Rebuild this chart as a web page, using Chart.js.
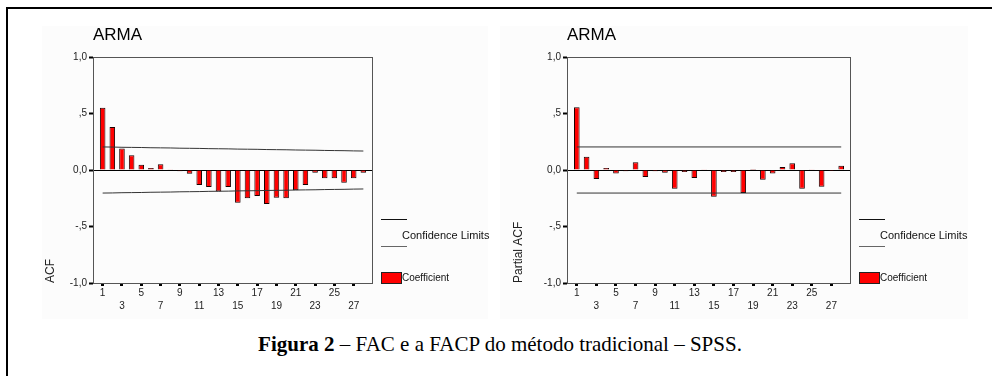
<!DOCTYPE html>
<html>
<head>
<meta charset="utf-8">
<script src="https://cdn.jsdelivr.net/npm/chart.js@4/dist/chart.umd.min.js"></script>
<style>
body { margin: 0; background: #fff; }
.page { position: relative; width: 992px; height: 376px; overflow: hidden; font-family: "Liberation Sans", Arial, sans-serif; }
.frame-top { position: absolute; left: 6px; top: 7px; width: 986px; height: 2px; background: #000; }
.frame-left { position: absolute; left: 6px; top: 7px; width: 2px; height: 369px; background: #000; }
.bg { position: absolute; background: #fcfcfc; }
.box { position: absolute; }
.caption { position: absolute; left: 8px; top: 332px; width: 984px; text-align: center; font-family: "Liberation Serif", "Times New Roman", serif; font-size: 21px; line-height: 25px; color: #000; }
</style>
</head>
<body>
<div class="page">
	<div class="frame-top"></div>
	<div class="frame-left"></div>
	<div class="bg" style="left:42px;top:26px;width:446px;height:293px"></div>
	<div class="bg" style="left:500px;top:26px;width:468px;height:293px"></div>
	<div class="box" style="left:42px;top:26px"><canvas id="acfChart" width="460" height="293"></canvas></div>
	<div class="box" style="left:510px;top:26px"><canvas id="pacfChart" width="470" height="293"></canvas></div>
	<div class="caption"><b>Figura 2</b> – FAC e a FACP do método tradicional – SPSS.</div>
</div>
<script>
const lags = [1, 2, 3, 4, 5, 6, 7, 8, 9, 10, 11, 12, 13, 14, 15, 16, 17, 18, 19, 20, 21, 22, 23, 24, 25, 26, 27, 28];
const xTickLags = [1, 3, 5, 7, 9, 11, 13, 15, 17, 19, 21, 23, 25, 27];
const yTicks = [-1, -0.5, 0, 0.5, 1];
const yTickLabels = ['-1,0', '-,5', '0,0', ',5', '1,0'];

// FAC (ACF)
const acf = [0.55, 0.38, 0.19, 0.13, 0.047, 0.018, 0.05, 0.002, -0.01, -0.033, -0.133, -0.15, -0.19, -0.15,
	-0.29, -0.25, -0.23, -0.30, -0.245, -0.25, -0.18, -0.133, -0.024, -0.074, -0.072, -0.112, -0.072, -0.024];
const acfUpper = [0.204, 0.203, 0.201, 0.200, 0.199, 0.197, 0.196, 0.195, 0.193, 0.192, 0.191, 0.189, 0.188, 0.187,
	0.185, 0.184, 0.183, 0.181, 0.180, 0.179, 0.177, 0.176, 0.175, 0.173, 0.172, 0.171, 0.169, 0.168];
const acfLower = [-0.204, -0.203, -0.201, -0.200, -0.199, -0.197, -0.196, -0.195, -0.193, -0.192, -0.191, -0.189, -0.188, -0.187,
	-0.185, -0.184, -0.183, -0.181, -0.180, -0.179, -0.177, -0.176, -0.175, -0.173, -0.172, -0.171, -0.169, -0.168];

// FACP (Partial ACF)
const pacf = [0.555, 0.118, -0.08, 0.018, -0.03, -0.01, 0.068, -0.062, -0.012, -0.024, -0.165, -0.018, -0.071, 0.002,
	-0.236, -0.018, -0.018, -0.204, 0.009, -0.086, -0.03, 0.027, 0.059, -0.165, 0.002, -0.148, -0.008, 0.038];
const pacfLimitLags = [1, 28];
const pacfUpper = [0.204, 0.204];
const pacfLower = [-0.204, -0.204];

const FONT = '"Liberation Sans", Arial, sans-serif';

function points(xs, ys) {
	return xs.map(function (x, i) { return { x: x, y: ys[i] }; });
}

// plot frame, title and the SPSS style legend
const spssDecor = {
	id: 'spssDecor',
	afterDraw: function (chart) {
		const c = chart.ctx;
		const a = chart.chartArea;
		c.save();
		c.strokeStyle = '#555';
		c.lineWidth = 1;
		c.strokeRect(a.left + 0.5, a.top + 0.5, a.right - a.left - 1, a.bottom - a.top);

		c.fillStyle = '#000';
		c.font = '17px ' + FONT;
		c.textBaseline = 'middle';
		c.textAlign = 'left';
		c.fillText('ARMA', a.left, a.top - 22);

		const lx = a.right + 8;
		c.strokeStyle = '#111';
		c.beginPath(); c.moveTo(lx, a.bottom - 63.5); c.lineTo(lx + 26, a.bottom - 63.5); c.stroke();
		c.strokeStyle = '#666';
		c.beginPath(); c.moveTo(lx, a.bottom - 36.5); c.lineTo(lx + 26, a.bottom - 36.5); c.stroke();
		c.font = '11px ' + FONT;
		c.fillStyle = '#111';
		c.fillText('Confidence Limits', lx + 21, a.bottom - 47);
		c.fillStyle = '#ff0000';
		c.fillRect(lx, a.bottom - 11, 20, 11);
		c.strokeStyle = '#222';
		c.strokeRect(lx + 0.5, a.bottom - 10.5, 20, 11);
		c.fillStyle = '#111';
		c.font = '10px ' + FONT;
		c.fillText('Coefficient', lx + 21, a.bottom - 5);
		c.restore();
	}
};

function makeChart(id, values, limitX, upper, lower, yTitle, axisWidth) {
	const ctx = document.getElementById(id).getContext('2d');
	return new Chart(ctx, {
		type: 'bar',
		data: {
			datasets: [
				{
					type: 'line',
					data: points(limitX, upper),
					borderColor: '#333',
					borderWidth: 1,
					pointRadius: 0,
					order: 1
				},
				{
					type: 'line',
					data: points(limitX, lower),
					borderColor: '#333',
					borderWidth: 1,
					pointRadius: 0,
					order: 1
				},
				{
					type: 'bar',
					data: points(lags, values),
					backgroundColor: '#ff0000',
					borderColor: '#1a0000',
					borderWidth: 1,
					barPercentage: 0.72,
					categoryPercentage: 0.8,
					order: 2
				}
			]
		},
		options: {
			responsive: false,
			animation: false,
			layout: { padding: { top: 31, right: 129, bottom: 0, left: 0 } },
			plugins: {
				legend: { display: false },
				tooltip: { enabled: false }
			},
			scales: {
				x: {
					type: 'linear',
					min: 0,
					max: 29,
					offset: false,
					afterBuildTicks: function (s) { s.ticks = xTickLags.map(function (v) { return { value: v }; }); },
					afterFit: function (s) { s.height = 36; },
					ticks: {
						autoSkip: false,
						maxRotation: 0,
						padding: 1,
						color: '#222',
						font: { family: FONT, size: 10, lineHeight: 1.3 },
						callback: function (v, i) { return i % 2 === 0 ? String(v) : ['', String(v)]; }
					},
					grid: { drawOnChartArea: false, offset: false, tickLength: 3, tickWidth: 3, tickColor: '#000' },
					border: { display: false }
				},
				y: {
					min: -1,
					max: 1,
					afterBuildTicks: function (s) { s.ticks = yTicks.map(function (v) { return { value: v }; }); },
					afterFit: function (s) { s.width = axisWidth; },
					ticks: {
						padding: 2,
						color: '#222',
						font: { family: FONT, size: 10 },
						callback: function (v) { return yTickLabels[yTicks.indexOf(v)]; }
					},
					grid: {
						tickLength: 4,
						tickWidth: 2,
						tickColor: '#000',
						color: function (c) { return c.tick && c.tick.value === 0 ? '#000' : 'rgba(0,0,0,0)'; }
					},
					border: { display: false },
					title: {
						display: true,
						text: yTitle,
						align: 'start',
						color: '#222',
						font: { family: FONT, size: 12 },
						padding: { top: 1, bottom: 0 }
					}
				}
			}
		},
		plugins: [spssDecor]
	});
}

makeChart('acfChart', acf, lags, acfUpper, acfLower, 'ACF', 51);
makeChart('pacfChart', pacf, pacfLimitLags, pacfUpper, pacfLower, 'Partial ACF', 57);
</script>
</body>
</html>
